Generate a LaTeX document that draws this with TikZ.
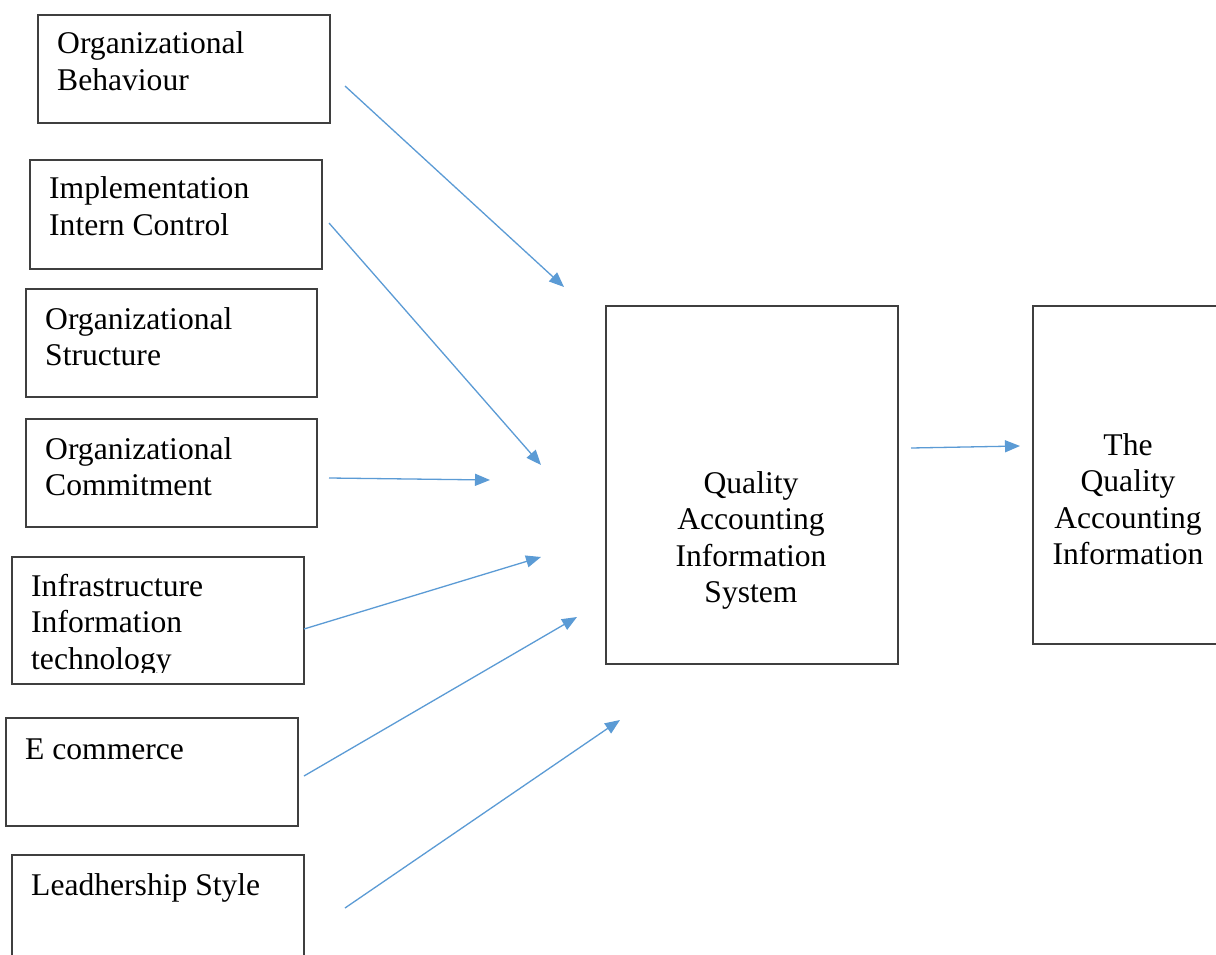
\documentclass[tikz,border=0pt]{standalone}
\usepackage{fontspec}
\setmainfont{Liberation Serif}
\usetikzlibrary{arrows.meta}
\definecolor{arrowblue}{HTML}{5B9BD5}
\definecolor{boxgray}{HTML}{3F3F3F}
\begin{document}
\begin{tikzpicture}[x=1pt,y=-1pt,
  box/.style={draw=boxgray, line width=1.6pt, inner sep=0pt, anchor=north west},
  lbl/.style={inner sep=0pt, anchor=base west, align=left, font=\fontsize{31.6}{36.5}\selectfont},
  clbl/.style={inner sep=0pt, anchor=base, align=center, font=\fontsize{31.6}{36.5}\selectfont},
  arr/.style={draw=arrowblue, line width=1.3pt, -{Triangle[length=15pt,width=12pt]}}]
\clip (0,0) rectangle (1216,955);
\fill[white] (0,0) rectangle (1216,955);
% left boxes (anchor base = baseline of the last line)
\node[box, minimum width=292pt, minimum height=108pt] (b1) at (37,14) {};
\node[lbl] (t1) at (57,90.5) {Organizational\\Behaviour};
\node[box, minimum width=292pt, minimum height=109pt] (b2) at (29,159) {};
\node[lbl] (t2) at (49,235.5) {Implementation\\Intern Control};
\node[box, minimum width=291pt, minimum height=108pt] (b3) at (25,288) {};
\node[lbl] (t3) at (45,365.5) {Organizational\\Structure};
\node[box, minimum width=291pt, minimum height=108pt] (b4) at (25,418) {};
\node[lbl] (t4) at (45,495.5) {Organizational\\Commitment};
\node[box, minimum width=292pt, minimum height=127pt] (b5) at (11,556) {};
\begin{scope}
\clip (11,556) rectangle (303,672);
\node[lbl] (t5) at (31,669) {Infrastructure\\Information\\technology};
\end{scope}
\node[box, minimum width=292pt, minimum height=108pt] (b6) at (5,717) {};
\node[lbl] (t6) at (25,759) {E commerce};
\node[box, minimum width=292pt, minimum height=120pt] (b7) at (11,854) {};
\node[lbl] (t7) at (31,895) {Leadhership Style};
% centre and right boxes
\node[box, minimum width=292pt, minimum height=358pt] (q) at (605,305) {};
\node[clbl] (tq) at (751,602.5) {Quality\\Accounting\\Information\\System};
\node[box, minimum width=220pt, minimum height=338pt] (r) at (1032,305) {};
\node[clbl] (tr) at (1128,564.5) {The\\Quality\\Accounting\\Information};
% arrows
\coordinate (s1) at (345,86);  \coordinate (e1) at (564,287);
\coordinate (s2) at (329,223); \coordinate (e2) at (541,465);
\coordinate (s3) at (329,478); \coordinate (e3) at (490,480);
\coordinate (s4) at (304,629); \coordinate (e4) at (541,557);
\coordinate (s5) at (304,776); \coordinate (e5) at (577,617);
\coordinate (s6) at (345,908); \coordinate (e6) at (620,720);
\coordinate (s7) at (911,448); \coordinate (e7) at (1020,446);
\draw[arr] (s1) -- (e1);
\draw[arr] (s2) -- (e2);
\draw[arr] (s3) -- (e3);
\draw[arr] (s4) -- (e4);
\draw[arr] (s5) -- (e5);
\draw[arr] (s6) -- (e6);
\draw[arr] (s7) -- (e7);
\end{tikzpicture}
\end{document}
